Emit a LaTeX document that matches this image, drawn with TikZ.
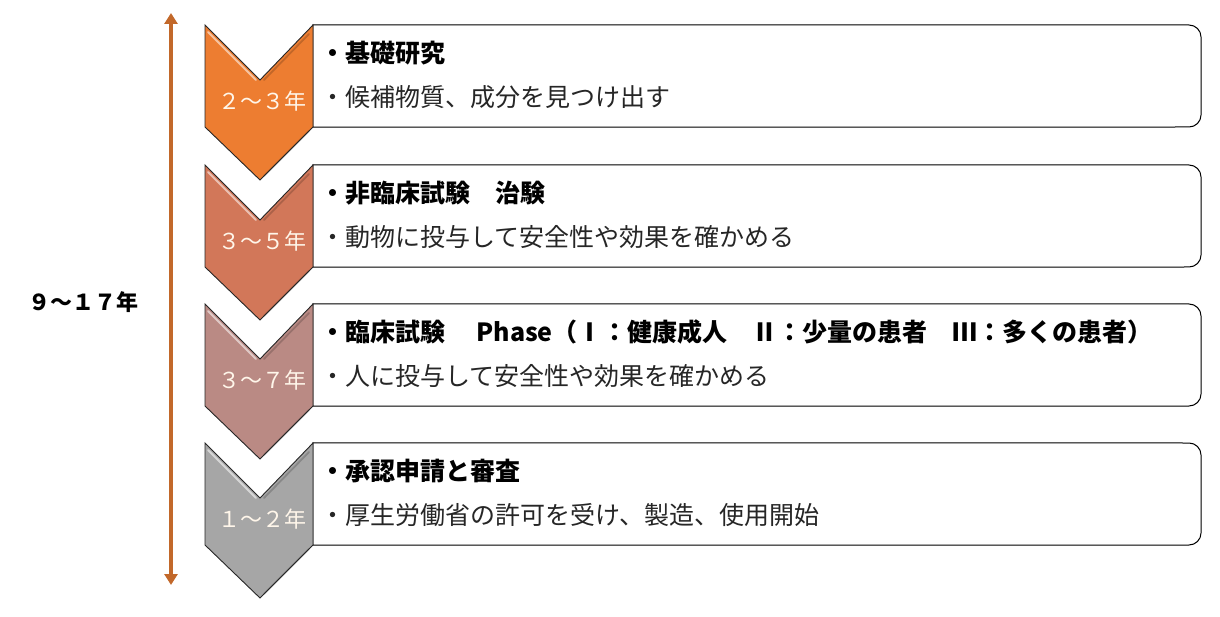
\documentclass[tikz,border=0pt]{standalone}
\usepackage{fontspec}
\usetikzlibrary{arrows.meta}
\setmainfont{Noto Sans CJK JP}
\definecolor{arrowc}{HTML}{C2682A}
\definecolor{cA}{HTML}{ED7D31}
\definecolor{cB}{HTML}{D27759}
\definecolor{cC}{HTML}{BA8A84}
\definecolor{cD}{HTML}{A6A6A6}
\definecolor{yearc}{HTML}{FFF6EA}
\begin{document}
\begin{tikzpicture}[x=1pt,y=-1pt,
  chevshape/.style={draw=black!85,line width=0.9pt,line join=miter},
  hilite/.style={white,opacity=0.55,line width=1.8pt,line cap=round},
  boxline/.style={draw=black,line width=1pt,fill=white},
  boxnode/.style={minimum width=888pt,minimum height=102pt,inner sep=0pt,draw=none},
  headtext/.style={anchor=west,inner sep=0pt,font=\fontsize{25pt}{27pt}\selectfont\bfseries},
  bodytext/.style={anchor=west,inner sep=0pt,font=\fontsize{25pt}{27pt}\selectfont,text=black!85},
  yeartext/.style={inner sep=0pt,font=\fontsize{22pt}{24pt}\selectfont,text=yearc},
  spantext/.style={inner sep=0pt,font=\fontsize{22pt}{24pt}\selectfont\bfseries},
  bigarrow/.style={draw=arrowc,line width=3.6pt,{Triangle[length=11pt,width=13pt]}-{Triangle[length=11pt,width=13pt]}}
]
\useasboundingbox (0,0) rectangle (1220,617);

\newcommand\mystage[6]{%
  % #1 top, #2 colour, #3 name, #4 year label, #5 heading, #6 body
  \node[boxnode] (#3) at (757,#1+51) {};
  \draw[boxline] (#3.north west) -- (1189,#1) arc[start angle=-90,end angle=0,radius=12]
     -- (1201,#1+90) arc[start angle=0,end angle=90,radius=12] -- (#3.south west) -- cycle;
  \fill[#2] (205,#1) -- (260,#1+55) -- (313,#1) -- (313,#1+102) -- (260,#1+155) -- (205,#1+102) -- cycle;
  \draw[hilite] (208,#1+7) -- (256,#1+55);
  \draw[hilite] (208,#1+109) -- (256,#1+155);
  \draw[black,opacity=0.18,line width=1.8pt,line cap=round] (264,#1+55) -- (309,#1+9);
  \draw[black,opacity=0.18,line width=1.8pt,line cap=round] (264,#1+151) -- (309,#1+106);
  \draw[chevshape] (205,#1) -- (260,#1+55) -- (313,#1) -- (313,#1+102) -- (260,#1+155) -- (205,#1+102) -- cycle;
  \node[yeartext] (#3y) at (262,#1+76) {#4};
  \node[headtext] (#3h) at (320.5,#1+28) {#5};
  \node[bodytext] (#3b) at (320.5,#1+72) {#6};
}

\mystage{25}{cA}{s1}{２～３年}{・基礎研究}{・候補物質、成分を見つけ出す}
\mystage{165}{cB}{s2}{３～５年}{・非臨床試験　治験}{・動物に投与して安全性や効果を確かめる}
\mystage{304}{cC}{s3}{３～７年}{・臨床試験　 Phase（Ⅰ：健康成人　Ⅱ：少量の患者　Ⅲ：多くの患者）}{・人に投与して安全性や効果を確かめる}
\mystage{443}{cD}{s4}{１～２年}{・承認申請と審査}{・厚生労働省の許可を受け、製造、使用開始}

\coordinate (atop) at (171,13);
\coordinate (abot) at (171,585);
\draw[bigarrow] (atop) -- (abot);
\node[spantext] (span) at (83,302) {９～１７年};
\end{tikzpicture}
\end{document}
